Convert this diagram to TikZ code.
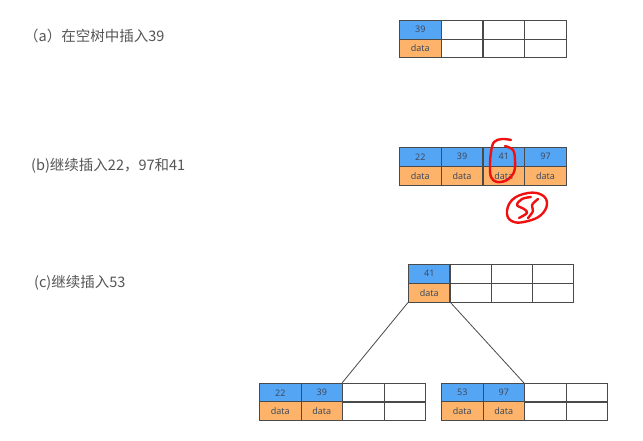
\documentclass[tikz,border=0pt]{standalone}
\usepackage{fontspec}
\newfontfamily\cjk{Noto Sans CJK SC}
\setsansfont{Noto Sans}
\definecolor{keyblue}{HTML}{55A5F5}
\definecolor{datorange}{HTML}{FDB46A}
\definecolor{linegray}{HTML}{4A4A4A}
\definecolor{celltext}{HTML}{3F4A5E}
\definecolor{labeltext}{HTML}{555555}
\definecolor{annot}{HTML}{F01010}
\usetikzlibrary{calc}
\tikzset{
  cell/.style={draw=linegray, line width=1pt, minimum width=41.5pt, minimum height=18.5pt,
    inner sep=0pt, anchor=north west, text=celltext, font=\sffamily\fontsize{9}{9}\selectfont},
  keycell/.style={cell, fill=keyblue},
  datcell/.style={cell, fill=datorange},
  lbl/.style={anchor=west, text=labeltext, inner sep=0pt, font=\cjk\fontsize{14.5}{15}\selectfont},
  edge/.style={draw=linegray, line width=0.8pt},
  redpen/.style={draw=annot, line width=2.4pt, line cap=round, line join=round}
}
\begin{document}
\begin{tikzpicture}[x=1pt,y=-1pt]
\useasboundingbox[fill=white] (0,0) rectangle (643,440);
% labels
\node[lbl] (la) at (24,36) {（a）在空树中插入39};
\node[lbl] (lb) at (31,166) {(b)继续插入22，97和41};
\node[lbl] (lc) at (34,283) {(c)继续插入53};
% (a)
\node[keycell] (a-k1) at (399,20) {39};
\node[datcell] (a-d1) at (399,38.5) {data};
\foreach \i in {2,3,4}{
  \node[cell] (a-k\i) at (399+41.75*\i-41.75,20) {};
  \node[cell] (a-d\i) at (399+41.75*\i-41.75,38.5) {};
}
% (b)
\foreach \i/\t in {1/22,2/39,3/41,4/97}{
  \node[keycell] (b-k\i) at (399+41.75*\i-41.75,147) {\t};
  \node[datcell] (b-d\i) at (399+41.75*\i-41.75,166) {data};
}
% (c) root
\node[keycell] (r-k1) at (408,264) {41};
\node[datcell] (r-d1) at (408,283) {data};
\foreach \i in {2,3,4}{
  \node[cell] (r-k\i) at (408+41.25*\i-41.25,264) {};
  \node[cell] (r-d\i) at (408+41.25*\i-41.25,283) {};
}
% left child
\foreach \i/\t in {1/22,2/39}{
  \node[keycell] (l-k\i) at (259+41.5*\i-41.5,383) {\t};
  \node[datcell] (l-d\i) at (259+41.5*\i-41.5,401) {data};
}
\foreach \i in {3,4}{
  \node[cell] (l-k\i) at (259+41.5*\i-41.5,383) {};
  \node[cell] (l-d\i) at (259+41.5*\i-41.5,401) {};
}
% right child
\foreach \i/\t in {1/53,2/97}{
  \node[keycell] (q-k\i) at (441+41.5*\i-41.5,383) {\t};
  \node[datcell] (q-d\i) at (441+41.5*\i-41.5,401) {data};
}
\foreach \i in {3,4}{
  \node[cell] (q-k\i) at (441+41.5*\i-41.5,383) {};
  \node[cell] (q-d\i) at (441+41.5*\i-41.5,401) {};
}
% connectors
\draw[edge] (r-d1.south west) -- (l-k3.north west);
\draw[edge] (r-d1.south east) -- (q-k3.north west);
% red annotations
\draw[redpen] plot[smooth, tension=0.6] coordinates {(511,140) (502,139) (494,142) (491,152) (490,165) (491,177) (497,182) (507,180) (514,172) (515,160) (513,150) (505,146)};
\draw[redpen] plot[smooth cycle, tension=0.7] coordinates {(528,193) (542,195) (547,204) (541,215) (528,221) (514,222) (507,214) (512,200)};
\draw[redpen] plot[smooth, tension=0.6] coordinates {(531,197) (522,199) (517,205) (524,209) (527,213) (519,218)};
\draw[redpen] plot[smooth, tension=0.6] coordinates {(538,199) (532,205) (533,211) (528,218)};
\end{tikzpicture}
\end{document}
